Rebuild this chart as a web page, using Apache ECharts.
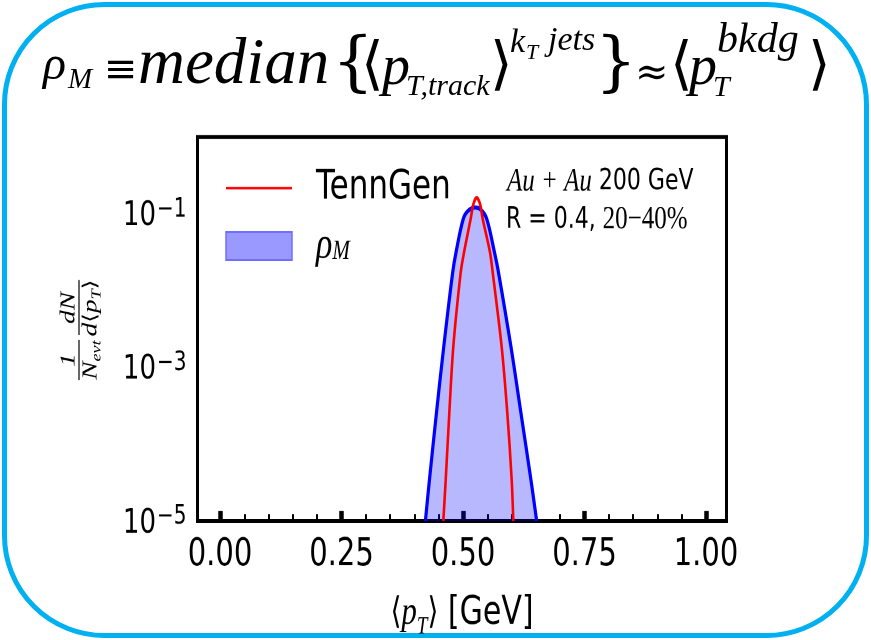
<!DOCTYPE html>
<html>
<head>
<meta charset="utf-8">
<script src="https://cdn.jsdelivr.net/npm/echarts@6/dist/echarts.min.js"></script>
<style>
  html, body { margin: 0; padding: 0; background: #fff; }
  #frame { position: absolute; left: 0; top: 0; width: 871px; height: 640px; }
  /* the plot in the slide is a vertically stretched figure */
  #chart { position: absolute; left: 0; top: 0; width: 871px; height: 492px;
           transform: scaleY(1.3008); transform-origin: 0 0; }
</style>
</head>
<body>
<div id="frame"></div>
<div id="chart"></div>
<script>
// ---- data ----
const tenngenX = [0.4595, 0.4644, 0.4718, 0.4800, 0.4953, 0.5021, 0.5158, 0.5216, 0.5282,
                  0.5350, 0.5405, 0.5556, 0.5611, 0.5796, 0.5912, 0.6002, 0.6035];
const tenngenY = [1e-5, 3.4e-5, 2.53e-4, 1.84e-3, 1.73e-2, 3.14e-2, 8.61e-2, 0.135, 0.163,
                  0.135, 8.61e-2, 3.14e-2, 1.73e-2, 1.84e-3, 2.53e-4, 3.4e-5, 1e-5];
const rhoX = [0.4226, 0.4309, 0.4453, 0.4603, 0.4788, 0.4856, 0.5006, 0.5103, 0.5247,
              0.5370, 0.5488, 0.5648, 0.5730, 0.5988, 0.6193, 0.6399, 0.6516];
const rhoY = [1e-5, 3.4e-5, 2.53e-4, 1.84e-3, 1.73e-2, 3.14e-2, 8.61e-2, 0.109, 0.121,
              0.113, 8.61e-2, 3.14e-2, 1.73e-2, 1.84e-3, 2.53e-4, 3.4e-5, 1e-5];

const xTickValues = [0, 0.25, 0.5, 0.75, 1.0];
const xTickLabels = ['0.00', '0.25', '0.50', '0.75', '1.00'];
const xMinorTicks = [0, 0.05, 0.1, 0.15, 0.2, 0.25, 0.3, 0.35, 0.4, 0.45, 0.5,
                     0.55, 0.6, 0.65, 0.7, 0.75, 0.8, 0.85, 0.9, 0.95, 1.0];
const yLabelExps = [-5, -3, -1];

const S = 640 / 492;
const py = v => v / S;   // page y -> stretched chart y

const sans = '"DejaVu Sans"';
const serif = '"Liberation Serif"';
const mathSerif = '"DejaVu Serif"';

// ---- slide frame + title (not stretched) ----
const frame = echarts.init(document.getElementById('frame'));

function t(text, x, y, size, family, upright) {
  return {
    type: 'text', x: x, y: y,
    style: {
      text: text, fill: '#000',
      font: (upright ? '' : 'italic ') + size + 'px ' + (family || serif),
      textAlign: 'left', textVerticalAlign: 'middle'
    }
  };
}

frame.setOption({
  backgroundColor: '#fff',
  graphic: [
    {
      type: 'rect',
      shape: { x: 4.5, y: 4.5, width: 862, height: 631, r: 100 },
      style: { fill: 'none', stroke: '#00b0f0', lineWidth: 5 }
    },
    t('ρ', 43, 66, 48),
    t('M', 68, 80, 29),
    t('≡', 104, 72, 40, mathSerif, true),
    t('median', 138, 66, 65),
    t('{', 332, 66, 66, mathSerif, true),
    t('⟨', 361, 68, 58, sans, true),
    t('p', 382, 69, 56),
    t('T,track', 406, 87, 30),
    t('⟩', 490, 68, 58, sans, true),
    t('k', 510, 43, 34),
    t('T', 526, 53, 22),
    t('jets', 548, 41, 34),
    t('}', 595, 66, 66, mathSerif, true),
    t('≈', 635, 75, 40, mathSerif, true),
    t('⟨', 670, 68, 58, sans, true),
    t('p', 689, 69, 56),
    t('T', 713, 88, 30),
    t('bkdg', 717, 41, 42),
    t('⟩', 808, 68, 58, sans, true)
  ]
});

// ---- the plot ----
const chart = echarts.init(document.getElementById('chart'), null, { devicePixelRatio: 2 });

const tenngenData = tenngenX.map((x, i) => [x, tenngenY[i]]);
const rhoData = rhoX.map((x, i) => [x, rhoY[i]]);

const xMin = -0.0463;
const xMax = 1.0422;

// y axis title: 1/N_evt dN/d<pT>, drawn as two fractions, rotated
const ylx = 79, yly = py(330);
function ft(text, u, v) {
  return {
    type: 'text', x: u, y: v,
    style: {
      text: text, fill: '#000', font: 'italic 21px ' + serif,
      textAlign: 'center', textVerticalAlign: 'middle',
      rich: {
        n: { fontFamily: serif, fontStyle: 'italic', fontSize: 21, verticalAlign: 'middle', lineHeight: 26 },
        s: { fontFamily: serif, fontStyle: 'italic', fontSize: 14, verticalAlign: 'bottom', lineHeight: 26 },
        a: { fontFamily: sans, fontSize: 19, verticalAlign: 'middle', lineHeight: 26 }
      }
    }
  };
}

chart.setOption({
  backgroundColor: 'transparent',
  animation: false,
  grid: {
    left: 197.5, right: 144.5, top: py(137), height: py(521) - py(137),
    outerBoundsMode: 'none', containLabel: false,
    show: true, borderColor: '#000', borderWidth: 3, backgroundColor: 'transparent'
  },
  legend: {
    orient: 'vertical', left: 225, top: py(187.5) - 15, padding: 0,
    itemWidth: 66, itemHeight: py(28), itemGap: py(242 - 187.5) - 30,
    textStyle: {
      fontFamily: sans, fontSize: 31, color: '#000', lineHeight: 30, padding: [0, 0, 0, 19],
      rich: {
        r: { fontFamily: serif, fontStyle: 'italic', fontSize: 34, lineHeight: 30, verticalAlign: 'middle' },
        m: { fontFamily: serif, fontStyle: 'italic', fontSize: 21, lineHeight: 30, verticalAlign: 'bottom' }
      }
    },
    formatter: name => name === 'rhoM' ? '{r|ρ}{m|M}' : name,
    data: [
      { name: 'TennGen', itemStyle: { color: 'rgba(0,0,0,0)', borderColor: 'rgba(0,0,0,0)', borderWidth: 0 } },
      { name: 'rhoM', icon: 'rect',
        itemStyle: { color: '#9999ff', borderColor: '#6f6fff', borderWidth: 1.5 } }
    ]
  },
  xAxis: [
    {
      type: 'value', min: xMin, max: xMax, position: 'bottom',
      axisLine: { show: false },
      splitLine: { show: false },
      axisTick: {
        show: true, inside: true, length: py(10), customValues: xTickValues,
        lineStyle: { color: '#000', width: 4.5 }
      },
      axisLabel: {
        customValues: xTickValues, margin: 12,
        fontFamily: sans, fontSize: 29, color: '#000',
        formatter: v => {
          const i = xTickValues.findIndex(x => Math.abs(x - v) < 1e-6);
          return i >= 0 ? xTickLabels[i] : '';
        }
      },
      name: '{b|⟨}{p|p}{t|T}{b|⟩}{g| [GeV]}',
      nameLocation: 'middle', nameGap: 51,
      nameTextStyle: {
        fontFamily: sans, fontSize: 29, color: '#000',
        rich: {
          b: { fontFamily: sans, fontSize: 28, lineHeight: 40, verticalAlign: 'middle' },
          p: { fontFamily: serif, fontStyle: 'italic', fontSize: 31, lineHeight: 40, verticalAlign: 'middle' },
          t: { fontFamily: serif, fontStyle: 'italic', fontSize: 19, lineHeight: 40, verticalAlign: 'bottom' },
          g: { fontFamily: sans, fontSize: 30, lineHeight: 40, verticalAlign: 'middle' }
        }
      }
    },
    {
      type: 'value', min: xMin, max: xMax, position: 'bottom',
      axisLine: { show: false },
      splitLine: { show: false },
      axisLabel: { show: false },
      axisTick: {
        show: true, inside: true, length: py(7), customValues: xMinorTicks,
        lineStyle: { color: '#000', width: 2 }
      }
    }
  ],
  yAxis: {
    type: 'log', logBase: 10, min: 1e-5, max: 1,
    axisLine: { show: false },
    axisTick: { show: false },
    splitLine: { show: false },
    minorTick: { show: false },
    axisLabel: {
      margin: 11, color: '#000', padding: [4, 0, 0, 0],
      formatter: v => {
        const e = Math.round(Math.log10(v));
        if (yLabelExps.indexOf(e) < 0) return '';
        return '{b|10}{s|−' + Math.abs(e) + '}';
      },
      rich: {
        b: { fontFamily: sans, fontSize: 26, lineHeight: 30, verticalAlign: 'middle' },
        s: { fontFamily: sans, fontSize: 20, lineHeight: 30, verticalAlign: 'top', padding: [0, 0, 0, 1] }
      }
    }
  },
  series: [
    {
      name: 'rhoM', type: 'line', data: rhoData,
      smooth: 0.35, symbol: 'none', z: 2,
      lineStyle: { color: '#0000ff', width: 3.2 },
      itemStyle: { color: '#9999ff' },
      areaStyle: { color: 'rgba(0,0,255,0.4)', origin: 'start' }
    },
    {
      name: 'TennGen', type: 'line', data: tenngenData,
      smooth: 0.3, symbol: 'none', z: 3,
      lineStyle: { color: '#ff0000', width: 2.6 },
      itemStyle: { color: '#ff0000' }
    }
  ],
  graphic: [
    {
      type: 'text', left: 507, top: py(184) - 14,
      style: {
        text: '{i|Au + Au} 200 GeV', fill: '#000', font: '22px ' + sans,
        rich: {
          i: { fontFamily: serif, fontStyle: 'italic', fontSize: 25, lineHeight: 28 }
        }
      }
    },
    {
      type: 'text', left: 506, top: py(222) - 14,
      style: {
        text: 'R = 0.4, {r|20−40%}', fill: '#000', font: '22px ' + sans,
        rich: {
          r: { fontFamily: serif, fontSize: 25, lineHeight: 28 }
        }
      }
    },
    {
      type: 'group', x: ylx, y: yly, rotation: Math.PI / 2,
      children: [
        ft('1', py(-30), -10),
        ft('{n|N}{s|evt}', py(-30), 12),
        { type: 'line', shape: { x1: py(-50), y1: 0, x2: py(-10), y2: 0 },
          style: { stroke: '#000', lineWidth: 1.2 } },
        ft('{n|dN}', py(22), -10),
        ft('{n|d}{a|⟨}{n|p}{s|T}{a|⟩}', py(22), 12),
        { type: 'line', shape: { x1: py(-5), y1: 0, x2: py(50), y2: 0 },
          style: { stroke: '#000', lineWidth: 1.2 } }
      ]
    }
  ]
});
</script>
</body>
</html>
